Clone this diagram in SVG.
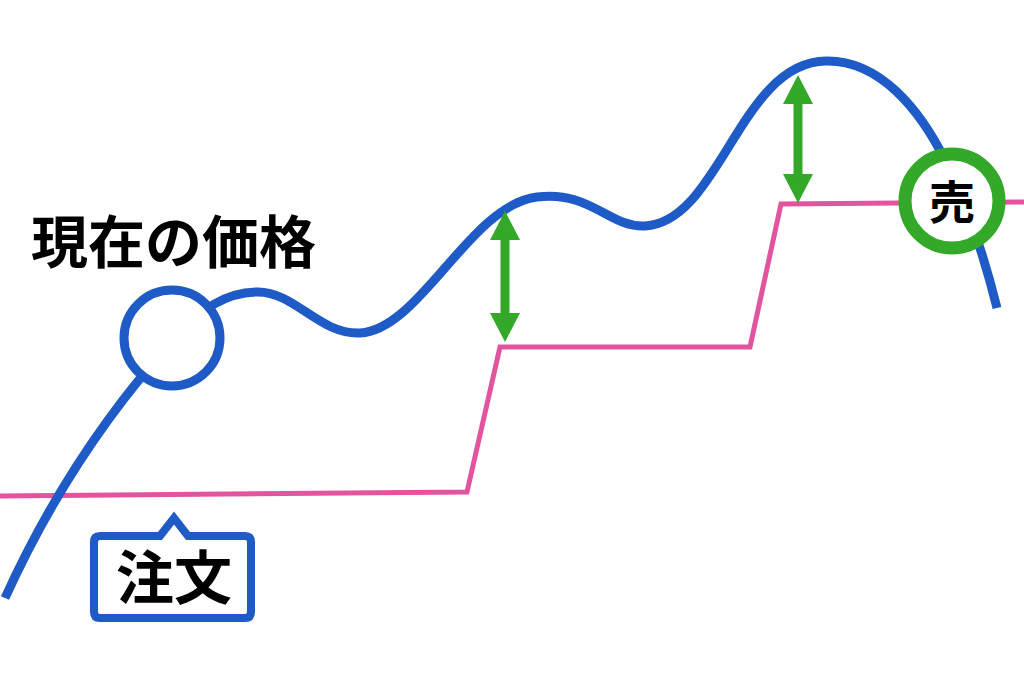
<svg xmlns="http://www.w3.org/2000/svg" width="1024" height="691" viewBox="0 0 1024 691">
<style>
.price{fill:none;stroke:#1e5bc6;stroke-width:9;stroke-linecap:butt;stroke-linejoin:round}
.order{fill:none;stroke:#e2549e;stroke-width:5;stroke-linejoin:miter}
.gap{stroke:#34a829;stroke-width:9;marker-start:url(#head);marker-end:url(#head)}
.lbl{font-family:"Noto Sans CJK JP","Noto Sans",sans-serif;font-weight:700;fill:#000}
</style>
<defs>
<marker id="head" viewBox="0 0 29 30" refX="1" refY="15" markerWidth="29" markerHeight="30" markerUnits="userSpaceOnUse" orient="auto-start-reverse">
<path d="M0,0 L29,15 L0,30 Z" fill="#34a829"/>
</marker>
</defs>
<rect width="1024" height="691" fill="#ffffff"/>
<g id="connectors">
<polyline class="order" points="0,496 467,492 500,347 750,347 781,204 1024,202"/>
<path class="price" d="M5,598 C45,510 100,420 175,338 C200,310 225,292 258,292 C295,292 320,335 360,333 C420,330 470,205 537,197 C590,190 610,228 645,226 C720,222 740,62 826,61 C880,60 920,110 945,160 C970,210 985,260 997,308"/>
<line class="gap" x1="505" y1="239" x2="505" y2="314"/>
<line class="gap" x1="798" y1="103" x2="798" y2="175"/>
</g>
<g id="current-price">
<circle cx="172" cy="338" r="48" fill="#ffffff" stroke="#1e5bc6" stroke-width="9"/>
</g>
<g id="label-current-price">
<text class="lbl" x="31" y="263" font-size="57">現在の価格</text>
</g>
<g id="order">
<path d="M100,536 L160,536 L174,518 L188,536 L245,536 Q251,536 251,542 L251,612 Q251,618 245,618 L100,618 Q94,618 94,612 L94,542 Q94,536 100,536 Z" fill="#ffffff" stroke="#1e5bc6" stroke-width="8"/>
<text class="lbl" x="174" y="599" font-size="58" text-anchor="middle">注文</text>
</g>
<g id="sell">
<circle cx="952" cy="201" r="47" fill="#ffffff" stroke="#34a829" stroke-width="13"/>
<text class="lbl" x="952" y="219" font-size="46" text-anchor="middle">売</text>
</g>
</svg>
